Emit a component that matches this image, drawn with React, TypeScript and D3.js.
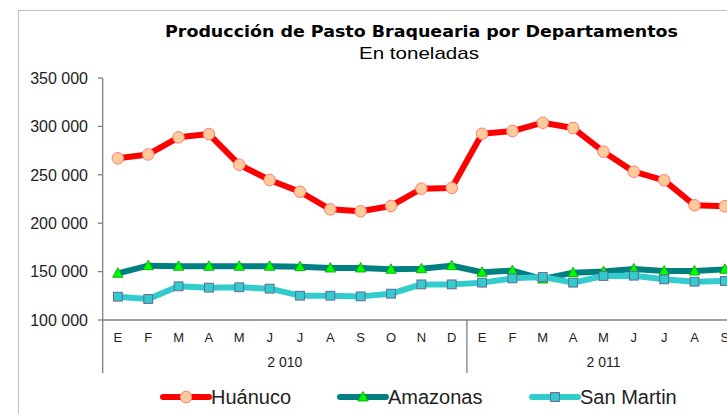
import React from 'react';
import * as d3 from 'd3';

const months = ['E', 'F', 'M', 'A', 'M', 'J', 'J', 'A', 'S', 'O', 'N', 'D', 'E', 'F', 'M', 'A', 'M', 'J', 'J', 'A', 'S'];
const years = ['2 010', '2 011'];
const yearMonthCounts = [12, 9];
const huanuco = [267000, 271000, 288700, 292100, 260400, 244600, 232500, 214300, 212300, 217800, 235600, 236400, 292400, 295200, 303800, 298300, 273900, 253200, 244300, 218500, 217500];
const amazonas = [148200, 156100, 155500, 155500, 155500, 155500, 155100, 153700, 153700, 152400, 153000, 156100, 149300, 151000, 142300, 148900, 150000, 152700, 150600, 150600, 152300];
const sanMartin = [124100, 121700, 134800, 133400, 133800, 132400, 125100, 125100, 124400, 127200, 136800, 136800, 138600, 143000, 144400, 138600, 145500, 145800, 142000, 139600, 140300];
const yTicks = [100000, 150000, 200000, 250000, 300000, 350000];
const seriesNames = ['Huánuco', 'Amazonas', 'San Martin'];

const FONT = "'Liberation Sans', Arial, sans-serif";

export default function App() {
  const left = 102.7;
  const bandW = 30.35;
  const x = d3.scaleBand<number>().domain(d3.range(months.length)).range([left, left + months.length * bandW]).padding(0);
  const y = d3.scaleLinear().domain([100000, 350000]).range([320, 78]);
  const cx = (i: number) => (x(i) as number) + x.bandwidth() / 2;
  const fmt = (v: number) => d3.format(',')(v).replace(/,/g, ' ');
  const line = d3.line<number>().x((_, i) => cx(i)).y((v) => y(v));

  const series = [
    { name: seriesNames[0], data: huanuco, stroke: '#FF0000', marker: 'circle', fill: '#FFCC99', mstroke: '#FF7A7A' },
    { name: seriesNames[1], data: amazonas, stroke: '#008080', marker: 'triangle', fill: '#00FF00', mstroke: '#00A000' },
    { name: seriesNames[2], data: sanMartin, stroke: '#33CCCC', marker: 'square', fill: '#33CCCC', mstroke: '#666699' },
  ];

  const drawMarker = (s: any, px: number, py: number, key: any) => {
    if (s.marker === 'circle') return <circle key={key} cx={px} cy={py} r={5.8} fill={s.fill} stroke={s.mstroke} strokeWidth={1} />;
    if (s.marker === 'triangle') {
      const p = `${px},${py - 5.5} ${px + 5.2},${py + 4} ${px - 5.2},${py + 4}`;
      return <polygon key={key} points={p} fill={s.fill} stroke={s.mstroke} strokeWidth={0.8} />;
    }
    return <rect key={key} x={px - 4.4} y={py - 4.4} width={8.8} height={8.8} fill={s.fill} stroke={s.mstroke} strokeWidth={1} />;
  };

  const yearStarts: number[] = [];
  let acc = 0;
  yearMonthCounts.forEach((c) => { yearStarts.push(acc); acc += c; });

  const legendX = [163, 340, 532];
  const legendY = 397;

  return (
    <svg width={727} height={414} style={{ position: 'fixed', left: 0, top: 0, background: '#fff' }} fontFamily={FONT}>
      <rect x={0} y={0} width={727} height={414} fill="#fff" />
      <rect x={18.5} y={10.5} width={800} height={500} fill="#fff" stroke="#c0c0c0" strokeWidth={1} />
      <text x={421.5} y={37} textAnchor="middle" fontFamily="'DejaVu Sans', sans-serif" fontWeight="bold" fontSize={16.5} textLength={513} lengthAdjust="spacingAndGlyphs">Producción de Pasto Braquearia por Departamentos</text>
      <text x={419} y={58.5} textAnchor="middle" fontSize={17} textLength={120} lengthAdjust="spacingAndGlyphs">En toneladas</text>

      {/* y axis */}
      <line x1={left} x2={left} y1={y(350000)} y2={320} stroke="#808080" strokeWidth={1.3} />
      {yTicks.map((t) => (
        <g key={t}>
          <line x1={left - 5} x2={left} y1={y(t)} y2={y(t)} stroke="#808080" strokeWidth={1.3} />
          <text x={88} y={y(t)} dy="0.36em" textAnchor="end" fontSize={16} fill="#222">{fmt(t)}</text>
        </g>
      ))}

      {/* x axis */}
      <line x1={left} x2={760} y1={320} y2={320} stroke="#808080" strokeWidth={1.3} />
      {yearStarts.map((s, k) => (
        <line key={'yd' + k} x1={x(s) as number} x2={x(s) as number} y1={320} y2={373} stroke="#808080" strokeWidth={1.3} />
      ))}
      {months.map((m, i) => (
        <text key={'m' + i} x={cx(i)} y={337} dy="0.36em" textAnchor="middle" fontSize={13} fill="#222">{m}</text>
      ))}
      {years.map((yr, k) => {
        const s = yearStarts[k];
        const e = s + yearMonthCounts[k];
        const center = ((x(s) as number) + (left + e * bandW)) / 2;
        return <text key={'y' + k} x={center} y={362} dy="0.36em" textAnchor="middle" fontSize={14} fill="#222">{yr}</text>;
      })}

      {series.map((s, k) => (
        <g key={'s' + k}>
          <path d={line(s.data) as string} fill="none" stroke={s.stroke} strokeWidth={6} strokeLinejoin="round" strokeLinecap="round" />
          {s.data.map((v, i) => drawMarker(s, cx(i), y(v), i))}
        </g>
      ))}

      {/* legend */}
      {series.map((s, k) => (
        <g key={'l' + k}>
          <line x1={legendX[k]} x2={legendX[k] + 46} y1={legendY} y2={legendY} stroke={s.stroke} strokeWidth={6} strokeLinecap="round" />
          {drawMarker(s, legendX[k] + 23, legendY, 'lm' + k)}
          <text x={legendX[k] + 48} y={legendY} dy="0.36em" fontSize={20} fill="#222">{s.name}</text>
        </g>
      ))}
    </svg>
  );
}
